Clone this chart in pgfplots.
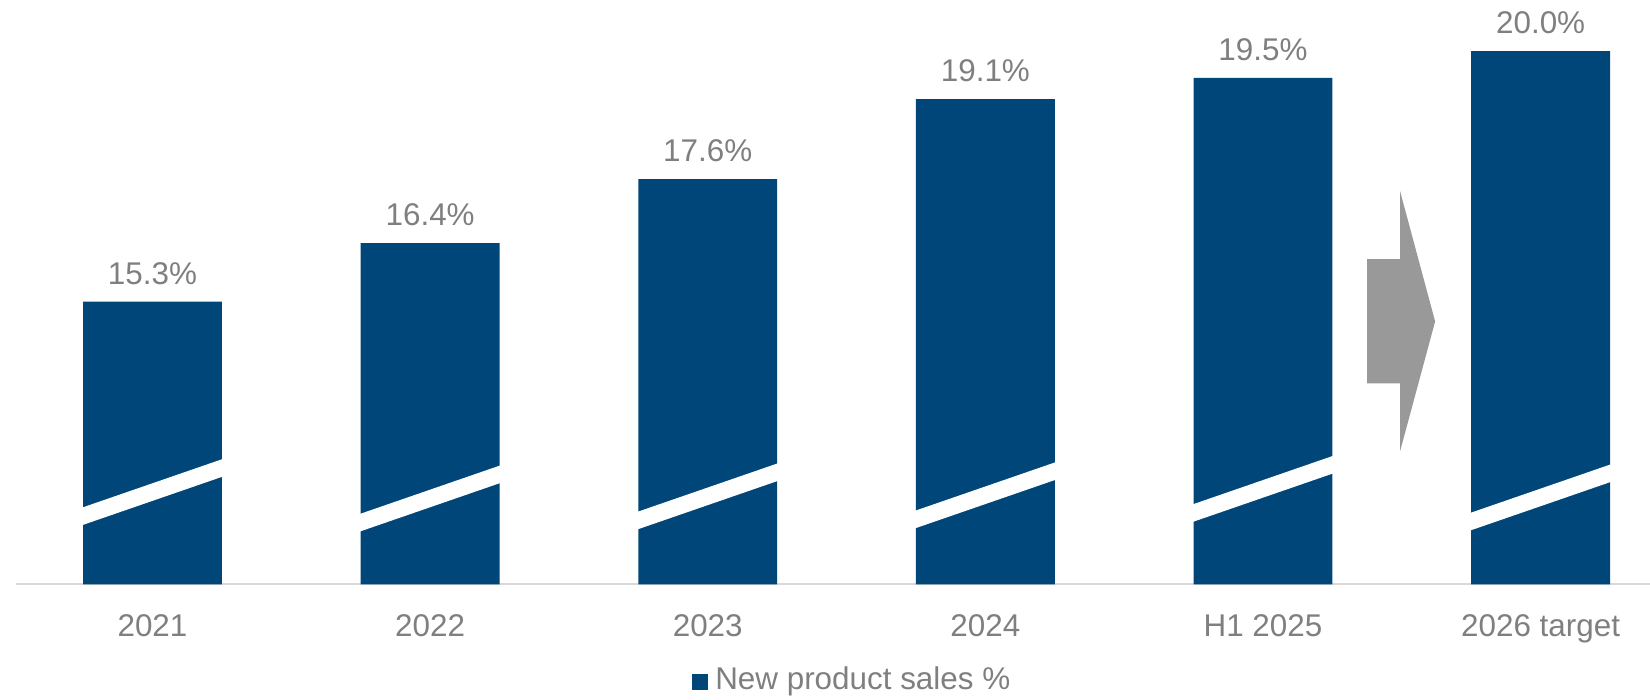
\documentclass[border=0pt]{standalone}
\usepackage{pgfplots}
\pgfplotsset{compat=1.18}
\usepackage{fontspec}
\setmainfont{Liberation Sans}
\definecolor{barblue}{RGB}{0,70,120}
\definecolor{textgray}{RGB}{127,127,127}
\definecolor{arrowgray}{RGB}{153,153,153}
\definecolor{linegray}{RGB}{217,217,217}
\newcommand\lblfont{\fontsize{15.7}{18}\selectfont}
\begin{document}
\begin{tikzpicture}
\useasboundingbox (0,0) rectangle (825pt,350pt);
\begin{axis}[
  at={(8pt,57.85pt)}, anchor=south west,
  scale only axis, width=817pt, height=292.15pt,
  xmin=-0.4917, xmax=5.394, ymin=10, ymax=20.96,
  axis x line*=bottom, hide y axis,
  x axis line style={draw=linegray, line width=0.8pt, -},
  xtick={0,...,5}, xticklabels={2021,2022,2023,2024,H1 2025,2026 target},
  major tick length=0pt,
  xticklabel style={font=\lblfont, text=textgray, anchor=north, inner sep=0pt, yshift=-15pt},
  /pgf/number format/assume math mode=true,
  legend style={at={(0.511,-0.163)}, anchor=center, draw=none, fill=none, font=\lblfont, text=textgray, inner sep=0pt, nodes={inner sep=0pt}, /tikz/every odd column/.append style={column sep=3.5pt}},
  legend image code/.code={\fill[barblue] (0pt,-5.3pt) rectangle (8.3pt,3pt);},
]
\addplot[ybar, bar width=0.5, fill=barblue, draw=none,
  nodes near coords={\pgfmathprintnumber[fixed, fixed zerofill, precision=1]{\pgfplotspointmeta}\%},
  nodes near coords style={font=\lblfont, text=textgray, anchor=south, inner sep=0pt, yshift=8.3pt}]
  coordinates {(0,15.3) (1,16.4) (2,17.6) (3,19.1) (4,19.5) (5,20.0)};
\addlegendentry{New product sales \%}
\addplot[fill=white, draw=none, forget plot] coordinates {(-0.26,11.097) (0.26,12.033) (0.26,12.363) (-0.26,11.427)} --cycle;
\addplot[fill=white, draw=none, forget plot] coordinates {(0.74,10.977) (1.26,11.913) (1.26,12.243) (0.74,11.307)} --cycle;
\addplot[fill=white, draw=none, forget plot] coordinates {(1.74,11.017) (2.26,11.953) (2.26,12.283) (1.74,11.347)} --cycle;
\addplot[fill=white, draw=none, forget plot] coordinates {(2.74,11.037) (3.26,11.973) (3.26,12.303) (2.74,11.367)} --cycle;
\addplot[fill=white, draw=none, forget plot] coordinates {(3.74,11.157) (4.26,12.093) (4.26,12.423) (3.74,11.487)} --cycle;
\addplot[fill=white, draw=none, forget plot] coordinates {(4.74,10.997) (5.26,11.933) (5.26,12.263) (4.74,11.327)} --cycle;
\fill[arrowgray] (axis cs:4.375,16.10) -- (axis cs:4.494,16.10) -- (axis cs:4.494,17.37) -- (axis cs:4.620,14.93) -- (axis cs:4.494,12.50) -- (axis cs:4.494,13.77) -- (axis cs:4.375,13.77) -- cycle;
\end{axis}
\end{tikzpicture}
\end{document}
